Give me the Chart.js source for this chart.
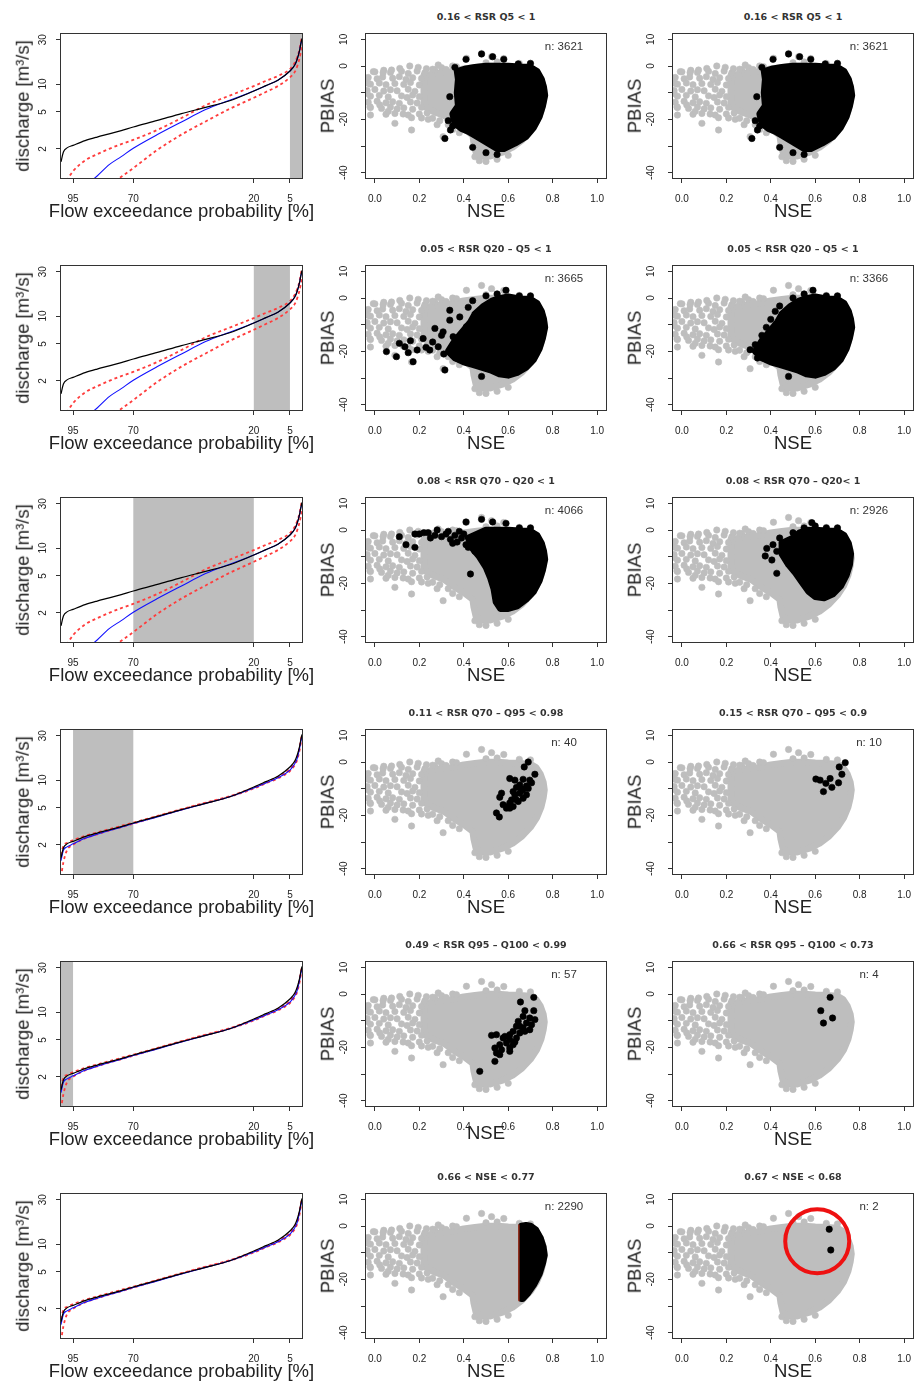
<!DOCTYPE html>
<html>
<head>
<meta charset="utf-8">
<script src="https://cdn.jsdelivr.net/npm/chart.js@4.4.0/dist/chart.umd.min.js"></script>
<style>
  body { margin: 0; background: #fff; width: 918px; height: 1389px; position: relative; overflow: hidden;
         font-family: "Liberation Sans", Arial, sans-serif; }
  canvas { position: absolute; }
  .t { position: absolute; white-space: nowrap; color: #222; line-height: 1; }
  .title { font-family: "DejaVu Sans", sans-serif; font-size: 9.5px; font-weight: bold; color: #333; }
  .n { font-size: 11.5px; color: #333; }
  .ax { font-size: 18.5px; }
</style>
</head>
<body>
<script>
// ---------- flow duration curves (left column) ----------
const P = [100, 99, 97.5, 95, 90, 85, 80, 75, 70, 60, 50, 40, 30, 20, 15, 10, 5, 3, 2, 1, 0.5, 0]
const Q_OBS = [1.45, 1.85, 2.05, 2.18, 2.45, 2.68, 2.9, 3.15, 3.44, 4.05, 4.8, 5.6, 6.6, 8.4, 9.6, 11.0, 13.8, 16, 18.5, 23, 27, 31]
// rows 1-3
const Q_SIM_A = [0.4, 0.5, 0.6, 0.65, 0.8, 1.02, 1.35, 1.65, 2.03, 2.85, 3.9, 5.3, 6.7, 8.4, 9.6, 11.0, 13.8, 16, 18.5, 23, 27, 30]
const Q_LO_A = [0.3, 0.35, 0.4, 0.45, 0.5, 0.6, 0.8, 1.0, 1.24, 1.95, 2.85, 3.95, 5.4, 7.1, 8.2, 9.5, 11.8, 13.5, 15.5, 19, 22, 26]
const Q_UP_A = [0.7, 0.8, 0.92, 1.15, 1.5, 1.75, 2.0, 2.25, 2.5, 3.2, 4.3, 5.9, 7.5, 9.5, 10.8, 12.2, 14.5, 17, 19.5, 24, 28, 33]
// rows 4-6
const Q_SIM_B = [1.35, 1.75, 1.9, 2.05, 2.35, 2.6, 2.85, 3.1, 3.4, 4.0, 4.75, 5.6, 6.6, 8.2, 9.3, 10.6, 12.8, 15, 17, 22, 26, 29]
const Q_LO_B = [0.9, 1.3, 1.75, 2.0, 2.35, 2.6, 2.85, 3.1, 3.38, 4.05, 4.8, 5.65, 6.6, 8.1, 9.2, 10.4, 12.5, 14.5, 16.5, 21, 25, 28]
const Q_UP_B = [1.55, 1.95, 2.1, 2.25, 2.5, 2.72, 2.95, 3.2, 3.47, 4.1, 4.85, 5.7, 6.7, 8.3, 9.4, 10.8, 13.2, 15.5, 17.5, 22.5, 27, 31]
const SHADE = [[5, 0], [20, 5], [70, 20], [95, 70], [100, 95], null]
const P_TICKS = [95, 70, 20, 5]
const Q_TICKS = [2, 5, 10, 30]

// ---------- NSE / PBIAS scatter ----------
const NSE_TICKS = [0, 0.2, 0.4, 0.6, 0.8, 1.0]
const PBIAS_TICKS = [-40, -30, -20, -10, 0, 10]

// outline of the dense right part of the full cloud
const CLOUD_POLY = [[0.22,-9],[0.22,-3.5],[0.26,-3],[0.3,-2.5],[0.35,-2],[0.4,-1],
  [0.45,-0.5],[0.5,0],[0.55,0],[0.6,-0.3],[0.65,-0.5],[0.7,-0.8],[0.725,-2],[0.745,-4.5],[0.758,-7.5],[0.763,-10.5],
  [0.758,-13.5],[0.748,-17],[0.728,-21],[0.7,-24.5],[0.66,-28],[0.62,-30.5],[0.57,-32.5],[0.52,-33.8],[0.48,-33.8],
  [0.455,-32.5],[0.445,-29],[0.44,-26],[0.4,-23.5],[0.36,-21.5],[0.31,-18.5],[0.26,-17],[0.22,-15],[0.22,-9]]
// the sparse left part and loose points round the cloud
const CLOUD_DOTS = [[0.0,-2.2],[0.04,-1.6],[0.07,-2.4],[0.12,-2.0],[0.15,-2.8],[0.19,-1.9],[0.225,-2.5],
  [-0.03,-4.3],[0.01,-4.8],[0.035,-4.1],[0.08,-4.6],[0.11,-4.0],[0.14,-5.0],[0.17,-4.4],[0.21,-4.7],
  [-0.02,-6.8],[0.02,-6.4],[0.05,-7.0],[0.09,-6.6],[0.13,-6.9],[0.16,-6.2],[0.2,-7.1],
  [-0.035,-9.2],[0.0,-8.8],[0.04,-9.4],[0.07,-8.9],[0.1,-9.3],[0.15,-8.7],[0.18,-9.5],
  [-0.02,-11.3],[0.02,-11.0],[0.06,-11.6],[0.12,-11.2],[0.145,-11.8],[0.17,-10.9],[0.2,-11.5],
  [-0.03,-13.6],[0.01,-13.2],[0.05,-13.8],[0.08,-13.4],[0.11,-14.0],[0.16,-13.5],[0.19,-13.9],
  [-0.02,-15.6],[0.03,-15.9],[0.07,-15.4],[0.1,-16.1],[0.13,-15.7],[0.17,-16.2],[0.21,-15.5],
  [0.05,-18.1],[0.09,-17.8],[0.15,-18.4],[0.2,-18.0],[0.235,-17.6],
  [-0.037,-4.6],[-0.03,-6.5],[-0.035,-10.3],[-0.022,-15.3],[-0.02,-18.4],[-0.007,-2.1],
  [0.022,-14.6],[0.037,-2.5],[0.06,-17],[0.075,-1.5],[0.09,-21.5],[0.112,-0.9],[0.127,-18],
  [0.157,0],[0.165,-24],[0.165,-19.4],[0.195,-0.5],[0.21,-19.5],[0.232,-1],[0.24,-20],[0.27,-1.5],
  [0.285,0.4],[0.292,-20.5],[0.307,-26.5],[0.33,-22],[0.35,0],[0.367,-0.25],[0.412,2.9],[0.48,4.7],[0.525,3.5],
  [0.58,2.8],[0.45,-34],[0.47,-35.5],[0.5,-35.8],[0.55,-35],[0.6,-33.5],[0.7,0.8],[0.65,1],[0.55,1.5],[0.5,1.2],
  [0.26,-1.2],[0.3,-0.6],[0.32,-1.3],[0.26,-19.6],[0.28,-22],[0.35,-23.8],[0.38,-25]]

const BLACK_POLY_Q5 = [[0.37,-2],[0.41,-1],[0.45,-0.5],[0.5,0],[0.55,0],[0.6,0],[0.65,-0.3],[0.7,-0.5],[0.73,-2],[0.75,-5],
  [0.76,-8],[0.765,-11],[0.755,-15],[0.74,-19],[0.715,-23],[0.68,-26.5],[0.63,-29],[0.58,-31],[0.55,-31],[0.52,-29.5],
  [0.49,-28],[0.46,-26.5],[0.42,-24.5],[0.39,-23.5],[0.36,-21.5],[0.35,-18],[0.375,-15],[0.37,-10],[0.375,-5],[0.37,-2]]
const BLACK_DOTS_Q5 = [[0.315,-27.2],[0.337,-11.5],[0.36,-0.5],[0.41,2.5],[0.48,4.5],[0.53,3.5],[0.58,2.5],[0.44,-30.5],
  [0.5,-32.5],[0.55,-33.2],[0.35,-22.5],[0.33,-20.5],[0.34,-24],[0.43,-1.5],[0.645,0.8],[0.7,1]]

const BLACK_POLY_Q20 = [[0.45,-6],[0.49,-3],[0.53,-1],[0.57,0],[0.6,0.5],[0.65,-0.3],[0.7,-0.5],[0.73,-2],[0.75,-5],[0.76,-8],
  [0.765,-11],[0.755,-15],[0.74,-19],[0.715,-23],[0.68,-26],[0.64,-28],[0.6,-29],[0.56,-28.5],[0.52,-27],[0.48,-26],
  [0.44,-25],[0.4,-24],[0.36,-22.5],[0.33,-20],[0.36,-16],[0.4,-12],[0.43,-9],[0.45,-6]]
const BLACK_DOTS_Q20_MID = [[0.052,-20.1],[0.097,-22],[0.11,-17],[0.135,-18.3],[0.15,-20.5],[0.16,-16],[0.172,-23.9],
  [0.19,-19.5],[0.217,-15.2],[0.23,-18.5],[0.247,-19.5],[0.26,-16.5],[0.27,-11.4],[0.285,-18.3],[0.3,-14],[0.307,-12.7],
  [0.315,-27],[0.337,-4.6],[0.337,-8.3],[0.31,-21],[0.352,-14.5],[0.382,-7.1],[0.367,-19.5],[0.397,-22],[0.412,-10.8],
  [0.48,-29.4],[0.42,-3.5],[0.44,-1],[0.5,0.8],[0.55,1.5],[0.59,2.9],[0.65,0.8],[0.7,0.8]]
const BLACK_DOTS_Q20_RIGHT = [[0.307,-19.4],[0.33,-17.5],[0.34,-22.5],[0.36,-14],[0.38,-11],[0.4,-8],[0.42,-5],[0.44,-3],
  [0.5,0],[0.55,1.5],[0.59,2.9],[0.48,-29.4],[0.65,0.8],[0.7,0.8]]

const BLACK_POLY_Q70_MID = [[0.42,-3],[0.46,-1.5],[0.5,0],[0.55,0],[0.6,0],[0.65,-0.3],[0.7,-0.5],[0.73,-2],[0.75,-5],[0.76,-8],
  [0.765,-11],[0.755,-15],[0.74,-19],[0.715,-23],[0.68,-26],[0.64,-28.5],[0.6,-29.5],[0.565,-29.5],[0.545,-27],[0.535,-22],
  [0.52,-18],[0.5,-14],[0.47,-10],[0.44,-7],[0.42,-3]]
const BLACK_DOTS_Q70_MID = [[0.11,-2.5],[0.14,-5.5],[0.18,-6.5],[0.18,-1.5],[0.2,-1.5],[0.22,-1],[0.24,-1],[0.25,-3],[0.27,-2],
  [0.28,0],[0.3,-2.5],[0.32,-1.5],[0.34,-3.5],[0.36,-2],[0.37,-4.5],[0.38,-0.5],[0.39,-3],[0.41,3],[0.41,-5.5],[0.43,-16.5],
  [0.44,-4],[0.45,-8],[0.48,4],[0.53,3],[0.59,2.5],[0.4,-1.5],[0.42,-6.5],[0.35,-5],[0.33,-0.5],[0.65,0.8],[0.7,0.8]]
const BLACK_POLY_Q70_RIGHT = [[0.45,-5],[0.5,-3],[0.53,-1],[0.57,0],[0.6,0],[0.65,-0.3],[0.7,-0.5],[0.73,-2],[0.75,-5],[0.76,-9],
  [0.755,-13],[0.74,-17],[0.715,-21],[0.68,-24],[0.64,-25.5],[0.6,-25],[0.57,-23],[0.54,-19.5],[0.51,-16],[0.48,-13],
  [0.45,-9],[0.45,-5]]
const BLACK_DOTS_Q70_RIGHT = [[0.382,-6.9],[0.375,-9.75],[0.405,-11.25],[0.427,-16.25],[0.427,-8],[0.41,-5.5],[0.44,-3],
  [0.5,-1],[0.55,0.8],[0.585,2.75],[0.6,1.5],[0.65,0.8],[0.7,0.8]]

const BLACK_DOTS_Q95_MID = [[0.69,0],[0.672,-1.85],[0.72,-4.6],[0.607,-6.2],[0.63,-6.8],[0.667,-6.5],[0.705,-7.8],[0.652,-8.6],
  [0.682,-9],[0.637,-9.5],[0.667,-10.2],[0.622,-11.1],[0.652,-11.7],[0.57,-11.7],[0.682,-12.3],[0.667,-13.6],[0.562,-13.2],
  [0.637,-14.2],[0.607,-15.4],[0.577,-16],[0.6,-16.7],[0.622,-16.7],[0.607,-17.3],[0.547,-19.1],[0.56,-20.6],[0.645,-14.8],
  [0.63,-12.3],[0.615,-14.2],[0.592,-17.3],[0.66,-10.5],[0.69,-9.9],[0.697,-6.8]]
const BLACK_DOTS_Q95_RIGHT = [[0.735,-0.25],[0.708,-1.85],[0.72,-4.6],[0.603,-6.4],[0.622,-6.8],[0.667,-6.2],[0.705,-7.8],
  [0.648,-8],[0.675,-9.5],[0.637,-11.1]]

const BLACK_DOTS_Q100_MID = [[0.715,-1.25],[0.655,-3],[0.675,-6.25],[0.715,-6.25],[0.667,-8.4],[0.697,-9],[0.72,-9.6],
  [0.645,-10.25],[0.682,-10.9],[0.705,-11.5],[0.637,-12.1],[0.667,-12.75],[0.697,-13.4],[0.622,-14],[0.652,-14.6],
  [0.607,-15.25],[0.675,-14],[0.525,-15.5],[0.547,-15.25],[0.577,-16.5],[0.607,-17.1],[0.637,-16.5],[0.592,-18.4],
  [0.622,-19],[0.562,-19],[0.54,-20.25],[0.57,-20.9],[0.607,-20.25],[0.607,-21.5],[0.547,-22.1],[0.562,-22.75],
  [0.54,-25.25],[0.472,-29],[0.652,-12.1],[0.585,-15.9],[0.63,-18]]
const BLACK_DOTS_Q100_RIGHT = [[0.667,-1.25],[0.625,-6.25],[0.678,-9],[0.637,-10.9]]

const BLACK_POLY_NSE = [[0.66,0],[0.68,0.3],[0.7,0],[0.725,-1.5],[0.745,-4.5],[0.758,-8],[0.763,-11],[0.755,-14],[0.74,-18],
  [0.715,-22],[0.69,-25],[0.665,-27.3],[0.66,-27.3],[0.66,0]]
const NSE_CUT_LINE = [[0.648, 0.6], [0.648, -28.2]]
const BLACK_DOTS_NSE_RIGHT = [[0.663,-1.2],[0.67,-9]]
const HIGHLIGHT = [0.609, -5.7]

const TITLES_MID = ['0.16 < RSR Q5 < 1', '0.05 < RSR Q20 \u2013 Q5 < 1', '0.08 < RSR Q70 \u2013 Q20 < 1',
  '0.11 < RSR Q70 \u2013 Q95 < 0.98', '0.49 < RSR Q95 \u2013 Q100 < 0.99', '0.66 < NSE < 0.77']
const TITLES_RIGHT = ['0.16 < RSR Q5 < 1', '0.05 < RSR Q20 \u2013 Q5 < 1', '0.08 < RSR Q70 \u2013 Q20< 1',
  '0.15 < RSR Q70 \u2013 Q95 < 0.9', '0.66 < RSR Q95 \u2013 Q100 < 0.73', '0.67 < NSE < 0.68']
const N_MID = [3621, 3665, 4066, 40, 57, 2290]
const N_RIGHT = [3621, 3366, 2926, 10, 4, 2]

// ---------- layout ----------
const GREY = '#bebebe'
const ML = 46, MR = 6, MT = 6, MB = 34
const COL_X = [61, 366, 673], COL_W = [241, 240, 240]
const ROW_TOP = 34, ROW_STEP = 232, FRAME_H = 144

Chart.defaults.font.family = '"Liberation Sans", Arial, sans-serif'

function frameRect(r, c) {
  return { x: COL_X[c], y: ROW_TOP + ROW_STEP * r, w: COL_W[c], h: FRAME_H }
}

function addCanvas(f) {
  const cv = document.createElement('canvas')
  cv.width = f.w + ML + MR
  cv.height = f.h + MT + MB
  cv.style.left = (f.x - ML) + 'px'
  cv.style.top = (f.y - MT) + 'px'
  document.body.appendChild(cv)
  return cv
}

function addText(txt, cx, cy, cls, rotate) {
  const d = document.createElement('div')
  d.className = 't ' + cls
  d.textContent = txt
  d.style.left = cx + 'px'
  d.style.top = cy + 'px'
  d.style.transform = 'translate(-50%,-50%)' + (rotate ? ' rotate(-90deg)' : '')
  document.body.appendChild(d)
}

// box round the plot region, grey band on the flow curves, red ring on the last panel
const framePlugin = {
  id: 'frame',
  beforeDatasetsDraw(chart, args, opts) {
    if (!opts.shade) return
    const { ctx, chartArea: a, scales: { x } } = chart
    const x1 = x.getPixelForValue(opts.shade[0]), x2 = x.getPixelForValue(opts.shade[1])
    ctx.save()
    ctx.fillStyle = GREY
    ctx.fillRect(Math.min(x1, x2), a.top, Math.abs(x2 - x1), a.bottom - a.top)
    ctx.restore()
  },
  afterDraw(chart, args, opts) {
    const { ctx, chartArea: a, scales } = chart
    ctx.save()
    ctx.strokeStyle = '#333'
    ctx.lineWidth = 1
    ctx.strokeRect(Math.round(a.left) - 0.5, Math.round(a.top) - 0.5, Math.round(a.right - a.left) + 1, Math.round(a.bottom - a.top) + 1)
    if (opts.ring) {
      ctx.strokeStyle = '#ee1111'
      ctx.lineWidth = 4
      ctx.beginPath()
      ctx.arc(scales.x.getPixelForValue(opts.ring[0]), scales.y.getPixelForValue(opts.ring[1]), 32, 0, Math.PI * 2)
      ctx.stroke()
    }
    ctx.restore()
  }
}

function axisX(min, max, ticks, fmt, extra) {
  return Object.assign({
    type: 'linear', min, max,
    afterBuildTicks: s => { s.ticks = ticks.map(v => ({ value: v })) },
    afterFit: s => { s.height = MB; s.paddingLeft = 0; s.paddingRight = 0 },
    grid: { drawOnChartArea: false, tickLength: 5, color: '#333' },
    border: { display: false },
    ticks: { autoSkip: false, maxRotation: 0, font: { size: 10 }, color: '#222', padding: 10.5, callback: fmt }
  }, extra)
}

function axisY(type, min, max, ticks, fmt, pad) {
  return {
    type, min, max,
    afterBuildTicks: s => { s.ticks = ticks.map(v => ({ value: v })) },
    afterFit: s => { s.width = ML; s.paddingTop = 0; s.paddingBottom = 0 },
    grid: { drawOnChartArea: false, tickLength: 5, color: '#333' },
    border: { display: false },
    ticks: { autoSkip: false, minRotation: 90, maxRotation: 90, crossAlign: 'center', font: { size: 10 }, color: '#222', padding: pad, callback: fmt }
  }
}

function curve(vals, color, width, dash) {
  return {
    data: P.map((p, i) => ({ x: p, y: vals[i] })),
    borderColor: color, borderWidth: width, borderDash: dash || [],
    pointRadius: 0, cubicInterpolationMode: 'monotone', fill: false
  }
}

function flowPanel(r) {
  const f = frameRect(r, 0)
  const cv = addCanvas(f)
  const late = r >= 3
  new Chart(cv, {
    type: 'line',
    data: {
      datasets: [
        curve(Q_OBS, '#000', 1.2),
        curve(late ? Q_SIM_B : Q_SIM_A, '#1010ff', 1.1),
        curve(late ? Q_LO_B : Q_LO_A, '#ff3c3c', 1.8, [3, 3]),
        curve(late ? Q_UP_B : Q_UP_A, '#ff3c3c', 1.8, [3, 3])
      ]
    },
    options: {
      responsive: false, animation: false,
      layout: { padding: { left: 0, top: MT, right: MR, bottom: 0 } },
      plugins: { legend: { display: false }, tooltip: { enabled: false }, frame: { shade: SHADE[r] } },
      scales: {
        x: axisX(0, 100, P_TICKS, v => String(v), { reverse: true }),
        y: axisY('logarithmic', 0.97, 34.6, Q_TICKS, v => String(v), 7.5)
      }
    },
    plugins: [framePlugin]
  })
  addText('discharge [m\u00b3/s]', f.x - 38, f.y + f.h / 2, 'ax', true)
  addText('Flow exceedance probability [%]', f.x + f.w / 2, f.y + f.h + 33, 'ax')
}

function poly(points, color, order) {
  return {
    type: 'line', data: points, fill: 'shape', backgroundColor: color, borderColor: color,
    borderWidth: 6.6, borderJoinStyle: 'round', borderCapStyle: 'round', pointRadius: 0, tension: 0, order
  }
}
function dots(points, color, order) {
  return {
    data: points, backgroundColor: color, borderColor: color, borderWidth: 0.6,
    pointRadius: 3.2, pointHoverRadius: 3.2, order
  }
}

function scatterPanel(r, c, cfg) {
  const f = frameRect(r, c)
  const cv = addCanvas(f)
  const sets = [poly(CLOUD_POLY, GREY, 10), dots(CLOUD_DOTS, GREY, 9)]
  if (cfg.poly) sets.push(poly(cfg.poly, '#000', 8))
  if (cfg.dots) sets.push(dots(cfg.dots, '#000', 7))
  if (cfg.cut) sets.push({ type: 'line', data: cfg.cut, borderColor: '#b5341c', borderWidth: 1.2, pointRadius: 0, order: 6 })
  new Chart(cv, {
    type: 'scatter',
    data: { datasets: sets },
    options: {
      responsive: false, animation: false,
      layout: { padding: { left: 0, top: MT, right: MR, bottom: 0 } },
      plugins: { legend: { display: false }, tooltip: { enabled: false }, frame: { ring: cfg.ring } },
      scales: {
        x: axisX(-0.04, 1.04, NSE_TICKS, v => v.toFixed(1)),
        y: axisY('linear', -42, 12, PBIAS_TICKS, v => (v === -10 || v === -30) ? '' : String(v), 10)
      }
    },
    plugins: [framePlugin]
  })
  const cx = f.x + f.w / 2
  addText(cfg.title, cx, f.y - 17, 'title')
  addText('n: ' + cfg.n, c === 1 ? 564 : 869, f.y + 13, 'n')
  addText('PBIAS', f.x - 38, f.y + f.h / 2, 'ax', true)
  addText('NSE', cx, f.y + f.h + (cfg.lowNse ? 27 : 33), 'ax')
}

const MID = [
  { poly: BLACK_POLY_Q5, dots: BLACK_DOTS_Q5 },
  { poly: BLACK_POLY_Q20, dots: BLACK_DOTS_Q20_MID },
  { poly: BLACK_POLY_Q70_MID, dots: BLACK_DOTS_Q70_MID },
  { dots: BLACK_DOTS_Q95_MID },
  { dots: BLACK_DOTS_Q100_MID, lowNse: true },
  { poly: BLACK_POLY_NSE, cut: NSE_CUT_LINE }
]
const RIGHT = [
  { poly: BLACK_POLY_Q5, dots: BLACK_DOTS_Q5 },
  { poly: BLACK_POLY_Q20, dots: BLACK_DOTS_Q20_RIGHT },
  { poly: BLACK_POLY_Q70_RIGHT, dots: BLACK_DOTS_Q70_RIGHT },
  { dots: BLACK_DOTS_Q95_RIGHT },
  { dots: BLACK_DOTS_Q100_RIGHT },
  { dots: BLACK_DOTS_NSE_RIGHT, ring: HIGHLIGHT }
]

for (let r = 0; r < 6; r++) {
  flowPanel(r)
  scatterPanel(r, 1, Object.assign({ title: TITLES_MID[r], n: N_MID[r] }, MID[r]))
  scatterPanel(r, 2, Object.assign({ title: TITLES_RIGHT[r], n: N_RIGHT[r] }, RIGHT[r]))
}
</script>
</body>
</html>
